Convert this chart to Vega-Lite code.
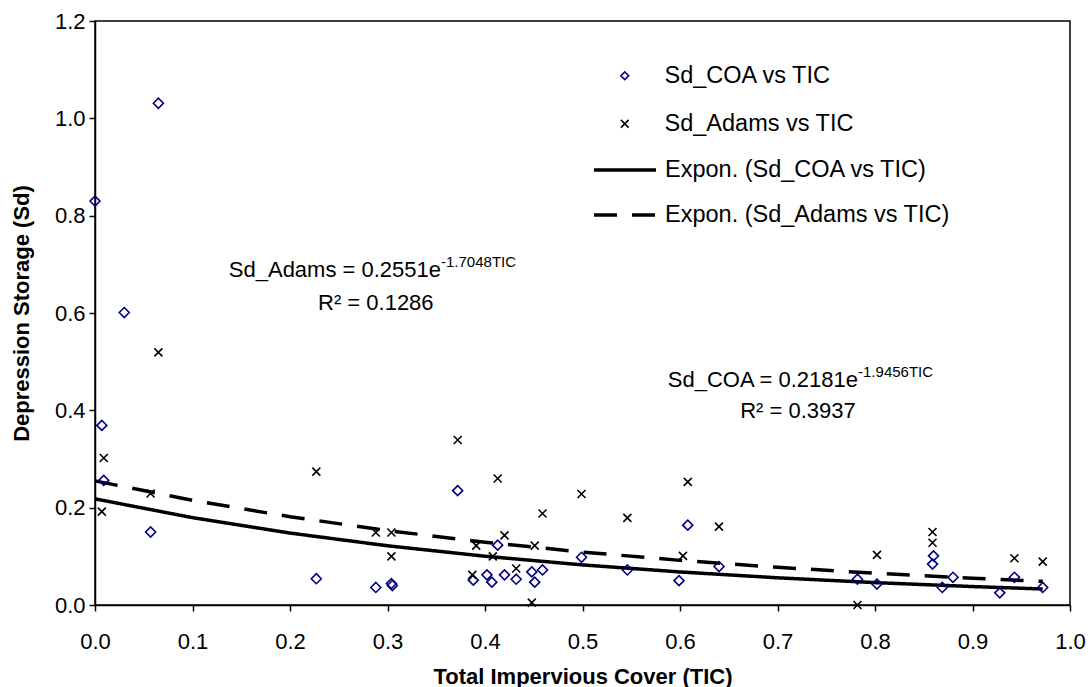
{
  "$schema": "https://vega.github.io/schema/vega-lite/v6.json",
  "width": 975,
  "height": 584,
  "autosize": {"type": "none"},
  "padding": {"left": 95, "top": 21, "right": 21, "bottom": 82},
  "background": "white",
  "config": {
    "view": {"stroke": "black", "strokeWidth": 1.5},
    "font": "Liberation Sans",
    "axis": {
      "grid": false,
      "domainColor": "black",
      "domainWidth": 1.5,
      "tickColor": "black",
      "tickWidth": 1.5,
      "tickSize": 6,
      "labelFont": "Liberation Sans",
      "labelFontSize": 22,
      "labelColor": "black",
      "titleFont": "Liberation Sans",
      "titleFontSize": 22,
      "titleFontWeight": "bold",
      "titleColor": "black"
    },
    "legend": {
      "labelFont": "Liberation Sans",
      "labelColor": "black",
      "labelLimit": 400
    }
  },
  "datasets": {
    "points": [
      {"tic": 0.000, "sd": 0.830, "pts": "Sd_COA vs TIC"},
      {"tic": 0.007, "sd": 0.369, "pts": "Sd_COA vs TIC"},
      {"tic": 0.009, "sd": 0.256, "pts": "Sd_COA vs TIC"},
      {"tic": 0.030, "sd": 0.601, "pts": "Sd_COA vs TIC"},
      {"tic": 0.065, "sd": 1.031, "pts": "Sd_COA vs TIC"},
      {"tic": 0.057, "sd": 0.150, "pts": "Sd_COA vs TIC"},
      {"tic": 0.227, "sd": 0.054, "pts": "Sd_COA vs TIC"},
      {"tic": 0.288, "sd": 0.036, "pts": "Sd_COA vs TIC"},
      {"tic": 0.304, "sd": 0.044, "pts": "Sd_COA vs TIC"},
      {"tic": 0.305, "sd": 0.040, "pts": "Sd_COA vs TIC"},
      {"tic": 0.372, "sd": 0.235, "pts": "Sd_COA vs TIC"},
      {"tic": 0.388, "sd": 0.051, "pts": "Sd_COA vs TIC"},
      {"tic": 0.402, "sd": 0.062, "pts": "Sd_COA vs TIC"},
      {"tic": 0.407, "sd": 0.047, "pts": "Sd_COA vs TIC"},
      {"tic": 0.413, "sd": 0.123, "pts": "Sd_COA vs TIC"},
      {"tic": 0.420, "sd": 0.062, "pts": "Sd_COA vs TIC"},
      {"tic": 0.432, "sd": 0.053, "pts": "Sd_COA vs TIC"},
      {"tic": 0.448, "sd": 0.068, "pts": "Sd_COA vs TIC"},
      {"tic": 0.451, "sd": 0.047, "pts": "Sd_COA vs TIC"},
      {"tic": 0.459, "sd": 0.072, "pts": "Sd_COA vs TIC"},
      {"tic": 0.499, "sd": 0.098, "pts": "Sd_COA vs TIC"},
      {"tic": 0.546, "sd": 0.072, "pts": "Sd_COA vs TIC"},
      {"tic": 0.599, "sd": 0.050, "pts": "Sd_COA vs TIC"},
      {"tic": 0.608, "sd": 0.164, "pts": "Sd_COA vs TIC"},
      {"tic": 0.640, "sd": 0.079, "pts": "Sd_COA vs TIC"},
      {"tic": 0.782, "sd": 0.053, "pts": "Sd_COA vs TIC"},
      {"tic": 0.802, "sd": 0.043, "pts": "Sd_COA vs TIC"},
      {"tic": 0.859, "sd": 0.084, "pts": "Sd_COA vs TIC"},
      {"tic": 0.860, "sd": 0.101, "pts": "Sd_COA vs TIC"},
      {"tic": 0.869, "sd": 0.036, "pts": "Sd_COA vs TIC"},
      {"tic": 0.880, "sd": 0.057, "pts": "Sd_COA vs TIC"},
      {"tic": 0.928, "sd": 0.025, "pts": "Sd_COA vs TIC"},
      {"tic": 0.943, "sd": 0.057, "pts": "Sd_COA vs TIC"},
      {"tic": 0.972, "sd": 0.036, "pts": "Sd_COA vs TIC"},
      {"tic": 0.007, "sd": 0.192, "pts": "Sd_Adams vs TIC"},
      {"tic": 0.009, "sd": 0.302, "pts": "Sd_Adams vs TIC"},
      {"tic": 0.057, "sd": 0.229, "pts": "Sd_Adams vs TIC"},
      {"tic": 0.065, "sd": 0.519, "pts": "Sd_Adams vs TIC"},
      {"tic": 0.227, "sd": 0.274, "pts": "Sd_Adams vs TIC"},
      {"tic": 0.288, "sd": 0.149, "pts": "Sd_Adams vs TIC"},
      {"tic": 0.304, "sd": 0.149, "pts": "Sd_Adams vs TIC"},
      {"tic": 0.304, "sd": 0.100, "pts": "Sd_Adams vs TIC"},
      {"tic": 0.372, "sd": 0.339, "pts": "Sd_Adams vs TIC"},
      {"tic": 0.387, "sd": 0.062, "pts": "Sd_Adams vs TIC"},
      {"tic": 0.391, "sd": 0.122, "pts": "Sd_Adams vs TIC"},
      {"tic": 0.408, "sd": 0.100, "pts": "Sd_Adams vs TIC"},
      {"tic": 0.413, "sd": 0.260, "pts": "Sd_Adams vs TIC"},
      {"tic": 0.420, "sd": 0.143, "pts": "Sd_Adams vs TIC"},
      {"tic": 0.432, "sd": 0.075, "pts": "Sd_Adams vs TIC"},
      {"tic": 0.448, "sd": 0.005, "pts": "Sd_Adams vs TIC"},
      {"tic": 0.451, "sd": 0.122, "pts": "Sd_Adams vs TIC"},
      {"tic": 0.459, "sd": 0.188, "pts": "Sd_Adams vs TIC"},
      {"tic": 0.499, "sd": 0.228, "pts": "Sd_Adams vs TIC"},
      {"tic": 0.546, "sd": 0.179, "pts": "Sd_Adams vs TIC"},
      {"tic": 0.603, "sd": 0.101, "pts": "Sd_Adams vs TIC"},
      {"tic": 0.608, "sd": 0.253, "pts": "Sd_Adams vs TIC"},
      {"tic": 0.640, "sd": 0.161, "pts": "Sd_Adams vs TIC"},
      {"tic": 0.782, "sd": 0.000, "pts": "Sd_Adams vs TIC"},
      {"tic": 0.802, "sd": 0.103, "pts": "Sd_Adams vs TIC"},
      {"tic": 0.859, "sd": 0.128, "pts": "Sd_Adams vs TIC"},
      {"tic": 0.859, "sd": 0.150, "pts": "Sd_Adams vs TIC"},
      {"tic": 0.943, "sd": 0.096, "pts": "Sd_Adams vs TIC"},
      {"tic": 0.972, "sd": 0.089, "pts": "Sd_Adams vs TIC"}
    ],
    "fits": [
      {"tic": 0.0, "sd": 0.2181, "fit": "Expon. (Sd_COA vs TIC)"},
      {"tic": 0.1, "sd": 0.1795, "fit": "Expon. (Sd_COA vs TIC)"},
      {"tic": 0.2, "sd": 0.1478, "fit": "Expon. (Sd_COA vs TIC)"},
      {"tic": 0.3, "sd": 0.1217, "fit": "Expon. (Sd_COA vs TIC)"},
      {"tic": 0.4, "sd": 0.1002, "fit": "Expon. (Sd_COA vs TIC)"},
      {"tic": 0.5, "sd": 0.0824, "fit": "Expon. (Sd_COA vs TIC)"},
      {"tic": 0.6, "sd": 0.0679, "fit": "Expon. (Sd_COA vs TIC)"},
      {"tic": 0.7, "sd": 0.0559, "fit": "Expon. (Sd_COA vs TIC)"},
      {"tic": 0.8, "sd": 0.0460, "fit": "Expon. (Sd_COA vs TIC)"},
      {"tic": 0.9, "sd": 0.0379, "fit": "Expon. (Sd_COA vs TIC)"},
      {"tic": 0.972, "sd": 0.0329, "fit": "Expon. (Sd_COA vs TIC)"},
      {"tic": 0.0, "sd": 0.2551, "fit": "Expon. (Sd_Adams vs TIC)"},
      {"tic": 0.1, "sd": 0.2151, "fit": "Expon. (Sd_Adams vs TIC)"},
      {"tic": 0.2, "sd": 0.1814, "fit": "Expon. (Sd_Adams vs TIC)"},
      {"tic": 0.3, "sd": 0.1530, "fit": "Expon. (Sd_Adams vs TIC)"},
      {"tic": 0.4, "sd": 0.1290, "fit": "Expon. (Sd_Adams vs TIC)"},
      {"tic": 0.5, "sd": 0.1088, "fit": "Expon. (Sd_Adams vs TIC)"},
      {"tic": 0.6, "sd": 0.0917, "fit": "Expon. (Sd_Adams vs TIC)"},
      {"tic": 0.7, "sd": 0.0774, "fit": "Expon. (Sd_Adams vs TIC)"},
      {"tic": 0.8, "sd": 0.0652, "fit": "Expon. (Sd_Adams vs TIC)"},
      {"tic": 0.9, "sd": 0.0550, "fit": "Expon. (Sd_Adams vs TIC)"},
      {"tic": 0.972, "sd": 0.0486, "fit": "Expon. (Sd_Adams vs TIC)"}
    ],
    "notes": [
      {"note": "Sd_Adams = 0.2551e"},
      {"note": "-1.7048TIC"},
      {"note": "R² = 0.1286"},
      {"note": "Sd_COA = 0.2181e"},
      {"note": "-1.9456TIC"},
      {"note": "R² = 0.3937"}
    ]
  },
  "layer": [
    {
      "data": {"name": "fits"},
      "mark": {"type": "line", "color": "black", "strokeWidth": 3.5},
      "encoding": {
        "x": {
          "field": "tic", "type": "quantitative",
          "scale": {"domain": [0, 1], "nice": false, "zero": false},
          "axis": {"title": "Total Impervious Cover (TIC)", "values": [0, 0.1, 0.2, 0.3, 0.4, 0.5, 0.6, 0.7, 0.8, 0.9, 1.0], "format": ".1f", "labelPadding": 20, "titlePadding": 14, "labelFlush": false, "labelOverlap": false}
        },
        "y": {
          "field": "sd", "type": "quantitative",
          "scale": {"domain": [0, 1.2], "nice": false, "zero": false},
          "axis": {"title": "Depression Storage (Sd)", "values": [0, 0.2, 0.4, 0.6, 0.8, 1.0, 1.2], "format": ".1f", "labelPadding": 4, "titlePadding": 21, "labelFlush": false, "labelOverlap": false}
        },
        "strokeDash": {
          "field": "fit", "type": "nominal",
          "scale": {"domain": ["Expon. (Sd_COA vs TIC)", "Expon. (Sd_Adams vs TIC)"], "range": [[1, 0], [23, 15]]},
          "legend": {"title": null, "orient": "none", "legendX": 497, "legendY": 116, "padding": 0, "symbolType": "stroke", "symbolSize": 3844, "symbolStrokeWidth": 3.5, "symbolStrokeColor": "black", "labelFontSize": 23.5, "labelOffset": 7, "rowPadding": -22}
        }
      }
    },
    {
      "data": {"name": "points"},
      "transform": [{"filter": "datum.pts == 'Sd_COA vs TIC'"}],
      "mark": {"type": "point", "filled": false, "size": 100, "strokeWidth": 1.6, "opacity": 1},
      "encoding": {
        "x": {"field": "tic", "type": "quantitative"},
        "y": {"field": "sd", "type": "quantitative"},
        "color": {
          "field": "pts", "type": "nominal",
          "scale": {"domain": ["Sd_COA vs TIC", "Sd_Adams vs TIC"], "range": ["#000080", "#000000"]},
          "legend": {"title": null, "orient": "none", "legendX": 518, "legendY": 43, "padding": 0, "symbolSize": 60, "symbolStrokeWidth": 1.6, "labelFontSize": 23.5, "labelOffset": 28, "rowPadding": 23}
        },
        "shape": {
          "field": "pts", "type": "nominal",
          "scale": {"domain": ["Sd_COA vs TIC", "Sd_Adams vs TIC"], "range": ["diamond", "M-1,-1L1,1M1,-1L-1,1"]},
          "legend": {"title": null, "orient": "none", "legendX": 518, "legendY": 43, "padding": 0, "symbolSize": 60, "symbolStrokeWidth": 1.6, "labelFontSize": 23.5, "labelOffset": 28, "rowPadding": 23}
        }
      }
    },
    {
      "data": {"name": "points"},
      "transform": [{"filter": "datum.pts == 'Sd_Adams vs TIC'"}],
      "mark": {"type": "point", "filled": false, "size": 64, "strokeWidth": 1.6, "opacity": 1},
      "encoding": {
        "x": {"field": "tic", "type": "quantitative"},
        "y": {"field": "sd", "type": "quantitative"},
        "color": {"field": "pts", "type": "nominal"},
        "shape": {"field": "pts", "type": "nominal"}
      }
    },
    {
      "data": {"name": "notes"},
      "transform": [{"filter": "datum.note == 'Sd_Adams = 0.2551e'"}],
      "mark": {"type": "text", "align": "right", "baseline": "alphabetic", "fontSize": 22, "font": "Liberation Sans", "color": "black"},
      "encoding": {"x": {"datum": 0.3549}, "y": {"datum": 0.674}, "text": {"field": "note"}}
    },
    {
      "data": {"name": "notes"},
      "transform": [{"filter": "datum.note == '-1.7048TIC'"}],
      "mark": {"type": "text", "align": "left", "baseline": "alphabetic", "fontSize": 15, "dy": -10, "font": "Liberation Sans", "color": "black"},
      "encoding": {"x": {"datum": 0.3549}, "y": {"datum": 0.674}, "text": {"field": "note"}}
    },
    {
      "data": {"name": "notes"},
      "transform": [{"filter": "datum.note == 'R² = 0.1286'"}],
      "mark": {"type": "text", "align": "center", "baseline": "alphabetic", "fontSize": 22, "font": "Liberation Sans", "color": "black"},
      "encoding": {"x": {"datum": 0.288}, "y": {"datum": 0.606}, "text": {"field": "note"}}
    },
    {
      "data": {"name": "notes"},
      "transform": [{"filter": "datum.note == 'Sd_COA = 0.2181e'"}],
      "mark": {"type": "text", "align": "right", "baseline": "alphabetic", "fontSize": 22, "font": "Liberation Sans", "color": "black"},
      "encoding": {"x": {"datum": 0.7826}, "y": {"datum": 0.4473}, "text": {"field": "note"}}
    },
    {
      "data": {"name": "notes"},
      "transform": [{"filter": "datum.note == '-1.9456TIC'"}],
      "mark": {"type": "text", "align": "left", "baseline": "alphabetic", "fontSize": 15, "dy": -10, "font": "Liberation Sans", "color": "black"},
      "encoding": {"x": {"datum": 0.7826}, "y": {"datum": 0.4473}, "text": {"field": "note"}}
    },
    {
      "data": {"name": "notes"},
      "transform": [{"filter": "datum.note == 'R² = 0.3937'"}],
      "mark": {"type": "text", "align": "center", "baseline": "alphabetic", "fontSize": 22, "font": "Liberation Sans", "color": "black"},
      "encoding": {"x": {"datum": 0.721}, "y": {"datum": 0.3836}, "text": {"field": "note"}}
    }
  ]
}
